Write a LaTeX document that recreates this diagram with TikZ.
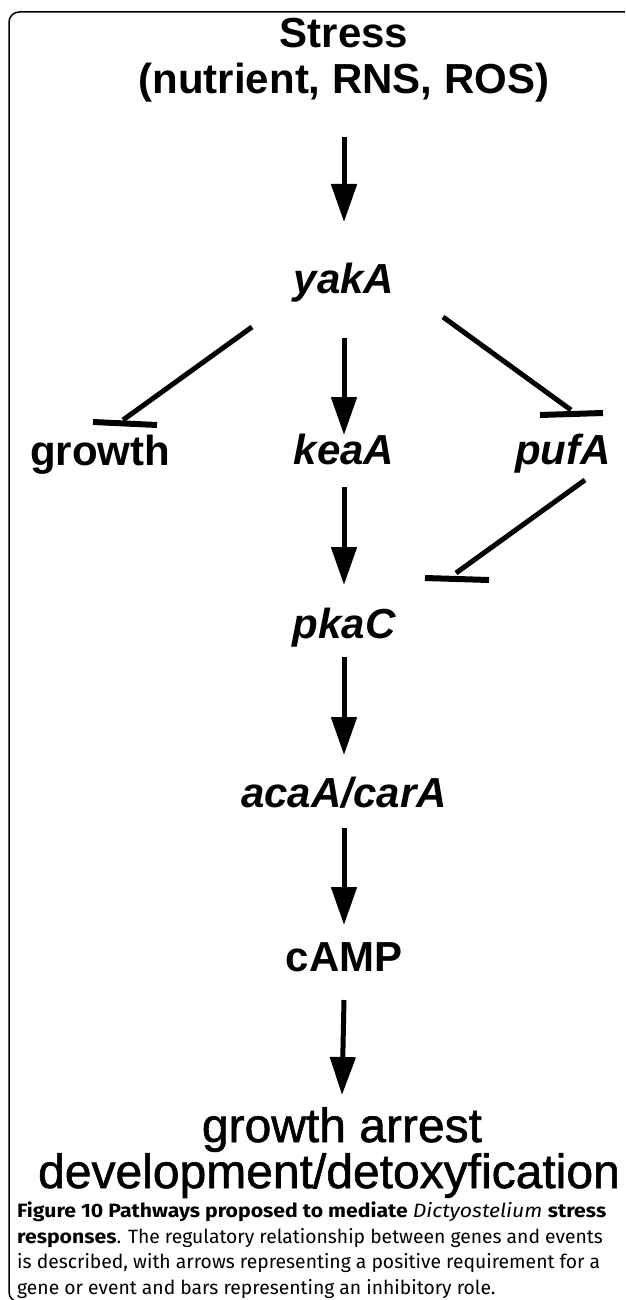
\documentclass[tikz,border=0pt]{standalone}
\usepackage{fontspec}
\setmainfont{Liberation Sans}
\newfontfamily\bigfont{Liberation Sans}[FakeBold=1.2]
\newfontfamily\capfont{Fira Sans}
\newfontfamily\capwide{Fira Sans}[FakeStretch=1.1]
\usetikzlibrary{arrows.meta,calc}
\begin{document}
\begin{tikzpicture}[x=1pt,y=-1pt,
  lbl/.style={inner sep=0pt, anchor=base, font=\fontsize{42}{46}\selectfont\bfseries},
  gene/.style={inner sep=0pt, anchor=base, font=\fontsize{42}{46}\selectfont\bfseries\itshape},
  big/.style={inner sep=0pt, anchor=base, font=\bigfont\fontsize{48}{50}\selectfont},
  act/.style={line width=5pt, -{Triangle[length=38pt,width=25pt]}},
  inh/.style={line width=5pt},
  barline/.style={line width=6pt},
  frame/.style={line width=1.5pt, rounded corners=10pt}]
\useasboundingbox (0,0) rectangle (625,1300);
\clip (0,0) rectangle (625,1300);
\draw[frame] (640,12) -- (9,12) -- (9,1302) -- (640,1302);

\node[lbl] (stress) at (344,48) {Stress};
\node[lbl] (stress2) at (344,94) {(nutrient, RNS, ROS)};
\node[gene] (yakA) at (344,293) {yakA};
\node[lbl] (growth) at (100,465) {growth};
\node[gene] (keaA) at (344,464) {keaA};
\node[gene] (pufA) at (563,464) {pufA};
\node[gene] (pkaC) at (344,638) {pkaC};
\node[gene] (acaA) at (344,807) {acaA/carA};
\node[lbl] (cAMP) at (344,971) {cAMP};
\node[big] (arrest1) at (342,1142) {growth arrest};
\node[big] (arrest2) at (329,1188) {development/detoxyfication};

\draw[act] ($(stress2.base)+(0,43)$) -- ($(yakA.base)+(0,-71)$);
\draw[act] ($(yakA.base)+(0,45)$) -- ($(keaA.base)+(0,-29)$);
\draw[act] ($(keaA.base)+(0,23)$) -- ($(pkaC.base)+(0,-53)$);
\draw[act] ($(pkaC.base)+(0,19)$) -- ($(acaA.base)+(0,-52)$);
\draw[act] ($(acaA.base)+(0,21)$) -- ($(cAMP.base)+(0,-46)$);
\draw[act] ($(cAMP.base)+(0,29)$) -- ($(arrest1.base)+(0,-47)$);

\draw[inh] ($(yakA.base)+(-92,34)$) -- ($(growth.base)+(23,-45)$);
\draw[barline] ($(growth.base)+(-7,-43)$) -- ($(growth.base)+(57,-40)$);
\draw[inh] ($(yakA.base)+(99,24)$) -- ($(pufA.base)+(8,-54)$);
\draw[barline] ($(pufA.base)+(-23,-49)$) -- ($(pufA.base)+(40,-51)$);
\draw[inh] ($(pufA.base)+(22,16)$) -- ($(pkaC.base)+(112,-65)$);
\draw[barline] ($(pkaC.base)+(81,-60)$) -- ($(pkaC.base)+(145,-58)$);

\node[inner sep=0pt, anchor=base west, align=left,
  font=\capfont\fontsize{19.3}{25.5}\selectfont] (caption) at (17,1294)
  {{\capwide\bfseries Figure 10 Pathways proposed to mediate \mdseries\itshape Dictyostelium\/ \bfseries\upshape stress}\\
   {\capwide\bfseries responses}. The regulatory relationship between genes and events\\
   is described, with arrows representing a positive requirement for a\\
   gene or event and bars representing an inhibitory role.};
\end{tikzpicture}
\end{document}
